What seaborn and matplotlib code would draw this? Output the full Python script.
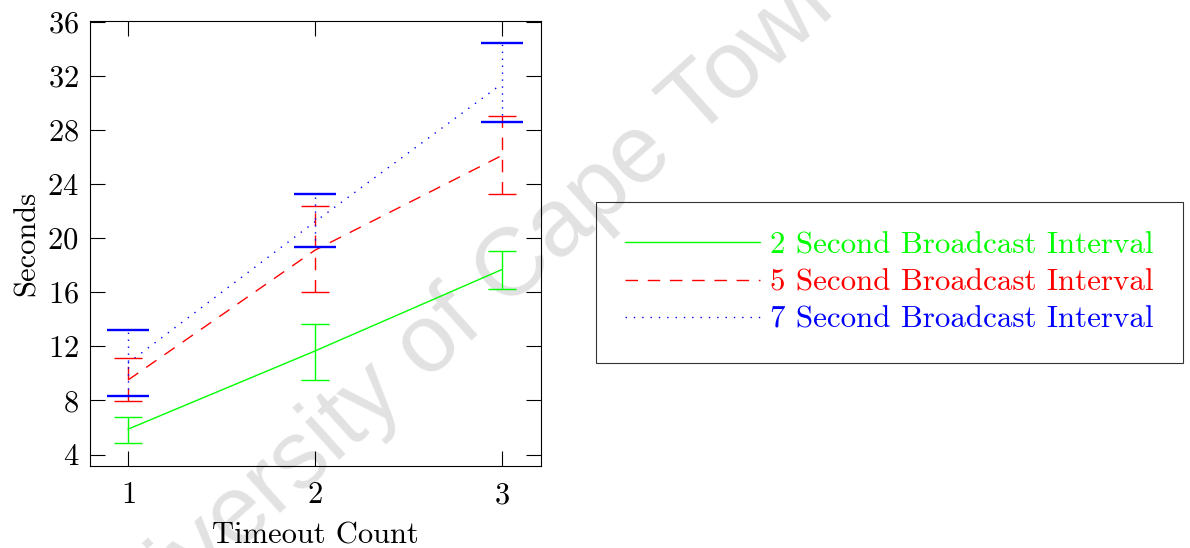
import matplotlib
matplotlib.use('Agg')
import matplotlib.pyplot as plt
import seaborn as sns
import pandas as pd
from matplotlib.lines import Line2D

# Data
timeout = [1, 2, 3]
intervals = ['2 Second Broadcast Interval',
             '5 Second Broadcast Interval',
             '7 Second Broadcast Interval']

mean_2s = [5.87, 11.65, 17.67]
lo_2s = [4.88, 9.53, 16.25]
hi_2s = [6.80, 13.66, 19.05]

mean_5s = [9.5, 19.1, 26.1]
lo_5s = [7.93, 15.98, 23.26]
hi_5s = [11.10, 22.37, 29.06]

mean_7s = [10.75, 21.2, 31.4]
lo_7s = [8.32, 19.37, 28.57]
hi_7s = [13.17, 23.23, 34.40]

colors = ['#00ff00', '#ff0000', '#0000ff']
dash_styles = ['', (9, 7), (1, 5)]

sns.set_style('ticks')
plt.rcParams['font.family'] = 'cmr10'
plt.rcParams['mathtext.fontset'] = 'cm'
plt.rcParams['axes.formatter.use_mathtext'] = True

# long form table for seaborn
rows = []
for name, m in zip(intervals, [mean_2s, mean_5s, mean_7s]):
    for t, v in zip(timeout, m):
        rows.append({'timeout': t, 'seconds': v, 'interval': name})
df = pd.DataFrame(rows)

fig = plt.figure(figsize=(11.9, 5.48), dpi=100)
ax = fig.add_axes([90 / 1190, 1 - 466 / 548, 451 / 1190, 445 / 548])
ax.patch.set_alpha(0)

sns.lineplot(data=df, x='timeout', y='seconds', hue='interval', style='interval',
             hue_order=intervals, style_order=intervals,
             palette=dict(zip(intervals, colors)),
             dashes=dict(zip(intervals, dash_styles)),
             linewidth=1.0, legend=False, ax=ax)

# error bars
bar_ls = ['-', (0, (9, 7)), (0, (1, 4))]
caps = [10.3, 10.3, 15]
capw = [1.0, 1.0, 1.7]
for m, lo, hi, c, ls, cs, cw in zip([mean_2s, mean_5s, mean_7s], [lo_2s, lo_5s, lo_7s],
                                    [hi_2s, hi_5s, hi_7s], colors, bar_ls, caps, capw):
    yerr = [[a - b for a, b in zip(m, lo)], [b - a for a, b in zip(m, hi)]]
    eb = ax.errorbar(timeout, m, yerr=yerr, fmt='none', ecolor=c, elinewidth=1.0,
                     capsize=cs, capthick=cw)
    eb[2][0].set_linestyle(ls)

ax.set_xlim(0.797, 3.21)
ax.set_ylim(3.15, 36.05)
ax.set_xticks(timeout)
ax.set_yticks(range(4, 37, 4))
ax.tick_params(direction='in', length=11, width=0.8, top=True, right=True,
               labelsize=22, pad=8, color='black', labelcolor='black')
ax.tick_params(axis='x', pad=11.5)
for sp in ax.spines.values():
    sp.set_color('black')
    sp.set_linewidth(0.8)

ax.set_xlabel('Timeout Count', fontsize=22, labelpad=9, color='black')
ax.set_ylabel('Seconds', fontsize=22, labelpad=5, color='black')

handles = []
for c, d in zip(colors, dash_styles):
    ln = Line2D([], [], color=c, lw=1.0)
    if d:
        ln.set_dashes(d)
    handles.append(ln)
leg = ax.legend(handles, intervals, loc='center left',
                bbox_to_anchor=(596 / 1190, 1 - 282.5 / 548),
                bbox_transform=fig.transFigure, borderaxespad=0,
                frameon=True, fancybox=False, edgecolor='black', fontsize=22.3,
                handlelength=4.35, handletextpad=0.33, labelspacing=0.3,
                borderpad=0.95)
leg.get_frame().set_linewidth(0.8)
leg.get_frame().set_facecolor('none')
for t, c in zip(leg.get_texts(), colors):
    t.set_color(c)

# watermark
fig.text(460.6 / 1190, 1 - 317.5 / 548, 'University of Cape Town', fontsize=69,
         family='Liberation Sans', color='#e2e2e2', rotation=42,
         rotation_mode='anchor', ha='center', va='center', zorder=-1)

fig.savefig('out.png', dpi=100)
